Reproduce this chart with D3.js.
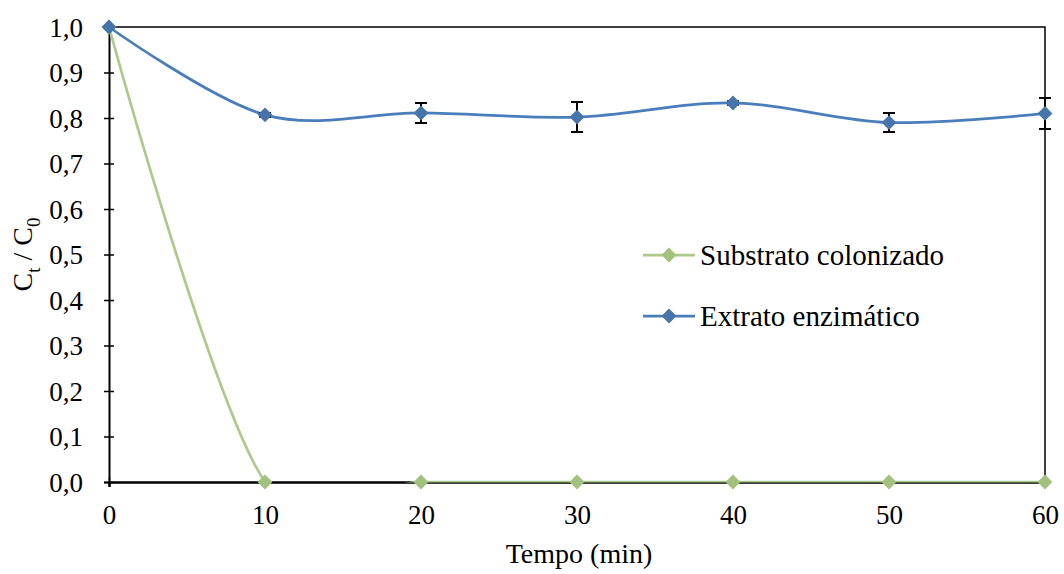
<!DOCTYPE html>
<html>
<head>
<meta charset="utf-8">
<script src="https://cdn.jsdelivr.net/npm/d3@7"></script>
<style>
  html, body { margin: 0; padding: 0; background: #fff; }
</style>
</head>
<body>
<svg id="chart" width="1064" height="574" font-family="Liberation Serif"></svg>
<script>
// Time points (min)
const tempo = [0, 10, 20, 30, 40, 50, 60];
// Ct/C0 for colonised substrate
const substrato = [1.0, 0, 0, 0, 0, 0, 0];
// Ct/C0 for enzymatic extract and its standard deviation
const extrato = [1.0, 0.807, 0.811, 0.802, 0.833, 0.790, 0.810];
const extratoErro = [0, 0.004, 0.022, 0.033, 0.004, 0.021, 0.034];
// Axis ticks
const xTicks = [0, 10, 20, 30, 40, 50, 60];
const yTicks = [0, 0.1, 0.2, 0.3, 0.4, 0.5, 0.6, 0.7, 0.8, 0.9, 1.0];

const seriesNames = ["Substrato colonizado", "Extrato enzimático"];
const colors = { green: "#ADC98B", greenMarker: "#A2C17D", blue: "#4A7EBB", blueMarker: "#4674AB" };
const FONT = "Liberation Serif";

const svg = d3.select("#chart");
const L = 109, R = 1045, T = 27, B = 482;

const x = d3.scaleLinear().domain([0, 60]).range([L, R]);
const y = d3.scaleLinear().domain([0, 1]).range([B, T]);

const fmt = v => d3.format(".1f")(v).replace(".", ",");

// Plot border (top and right)
svg.append("path")
  .attr("d", `M${L},${T}H${R}V${B}`)
  .attr("fill", "none").attr("stroke", "#000").attr("stroke-width", 1.5);

// Y axis
const yAxis = svg.append("g").attr("transform", `translate(${L},0)`)
  .call(d3.axisLeft(y).tickValues(yTicks).tickFormat(fmt).tickSize(5).tickPadding(21));
yAxis.attr("font-family", FONT);
yAxis.select(".domain").attr("stroke-width", 2);
yAxis.selectAll(".tick line").attr("x2", 5).attr("x1", -5).attr("stroke-width", 1.5);
yAxis.selectAll("text").attr("font-size", 27).attr("dy", "0.34em")
  .attr("font-family", FONT).attr("fill", "#000");

// X axis
const xAxis = svg.append("g").attr("transform", `translate(0,${B})`)
  .call(d3.axisBottom(x).tickValues(xTicks).tickFormat(d3.format("d")).tickSize(5).tickPadding(18));
xAxis.attr("font-family", FONT);
xAxis.select(".domain").attr("stroke-width", 2.5);
xAxis.selectAll(".tick line").attr("y1", -5).attr("y2", 5).attr("stroke-width", 1.5);
xAxis.selectAll("text").attr("font-size", 27).attr("font-family", FONT).attr("fill", "#000");

// Axis titles
svg.append("text").attr("x", (L + R) / 2 + 2).attr("y", 563)
  .attr("font-family", FONT).attr("text-anchor", "middle").attr("font-size", 28).text("Tempo (min)");

const yt = svg.append("text")
  .attr("transform", `translate(32,${(T + B) / 2}) rotate(-90)`)
  .attr("font-family", FONT).attr("text-anchor", "middle").attr("font-size", 28);
yt.append("tspan").text("C");
yt.append("tspan").attr("font-size", 19).attr("dy", 8).text("t");
yt.append("tspan").attr("dy", -8).text(" / C");
yt.append("tspan").attr("font-size", 19).attr("dy", 8).text("0");

// Clip series lines to the plot area
svg.append("clipPath").attr("id", "plotClip")
  .append("rect").attr("x", L - 10).attr("y", T - 10).attr("width", R - L + 20).attr("height", B - T + 10.5);

const line = d3.line()
  .x((d, i) => x(tempo[i]))
  .y(d => y(d))
  .curve(d3.curveCardinal.tension(0));

const diamond = d3.symbol().type(d3.symbolDiamond2).size(140);

function drawSeries(values, color) {
  const g = svg.append("g");
  g.append("path").datum(values)
    .attr("d", line).attr("fill", "none")
    .attr("stroke", color).attr("stroke-width", 2.75)
    .attr("clip-path", "url(#plotClip)");
  return g;
}

// Colonised substrate
const gGreen = drawSeries(substrato, colors.green);
gGreen.selectAll(".m").data(substrato).join("path")
  .attr("transform", (d, i) => `translate(${x(tempo[i])},${y(d)})`)
  .attr("d", diamond).attr("fill", colors.greenMarker);

// Enzymatic extract with error bars
const gBlue = drawSeries(extrato, colors.blue);
tempo.forEach((t, i) => {
  if (extratoErro[i] <= 0) return;
  const cx = x(t), y0 = y(extrato[i] - extratoErro[i]), y1 = y(extrato[i] + extratoErro[i]);
  gBlue.append("path")
    .attr("d", `M${cx},${y0}V${y1}M${cx - 6},${y0}H${cx + 6}M${cx - 6},${y1}H${cx + 6}`)
    .attr("stroke", "#000").attr("stroke-width", 2).attr("fill", "none");
});
gBlue.selectAll(".m").data(extrato).join("path")
  .attr("transform", (d, i) => `translate(${x(tempo[i])},${y(d)})`)
  .attr("d", diamond).attr("fill", colors.blueMarker);

// Legend
const legend = svg.append("g");
const legendItems = [
  { name: seriesNames[0], color: colors.green, marker: colors.greenMarker, y: 255 },
  { name: seriesNames[1], color: colors.blue, marker: colors.blueMarker, y: 316 }
];
legendItems.forEach(it => {
  legend.append("line").attr("x1", 643).attr("x2", 695).attr("y1", it.y).attr("y2", it.y)
    .attr("stroke", it.color).attr("stroke-width", 2.75);
  legend.append("path").attr("transform", `translate(669,${it.y})`).attr("d", diamond).attr("fill", it.marker);
  legend.append("text").attr("x", 700).attr("y", it.y + 9.5)
    .attr("font-family", FONT).attr("font-size", 29).text(it.name);
});
</script>
</body>
</html>
